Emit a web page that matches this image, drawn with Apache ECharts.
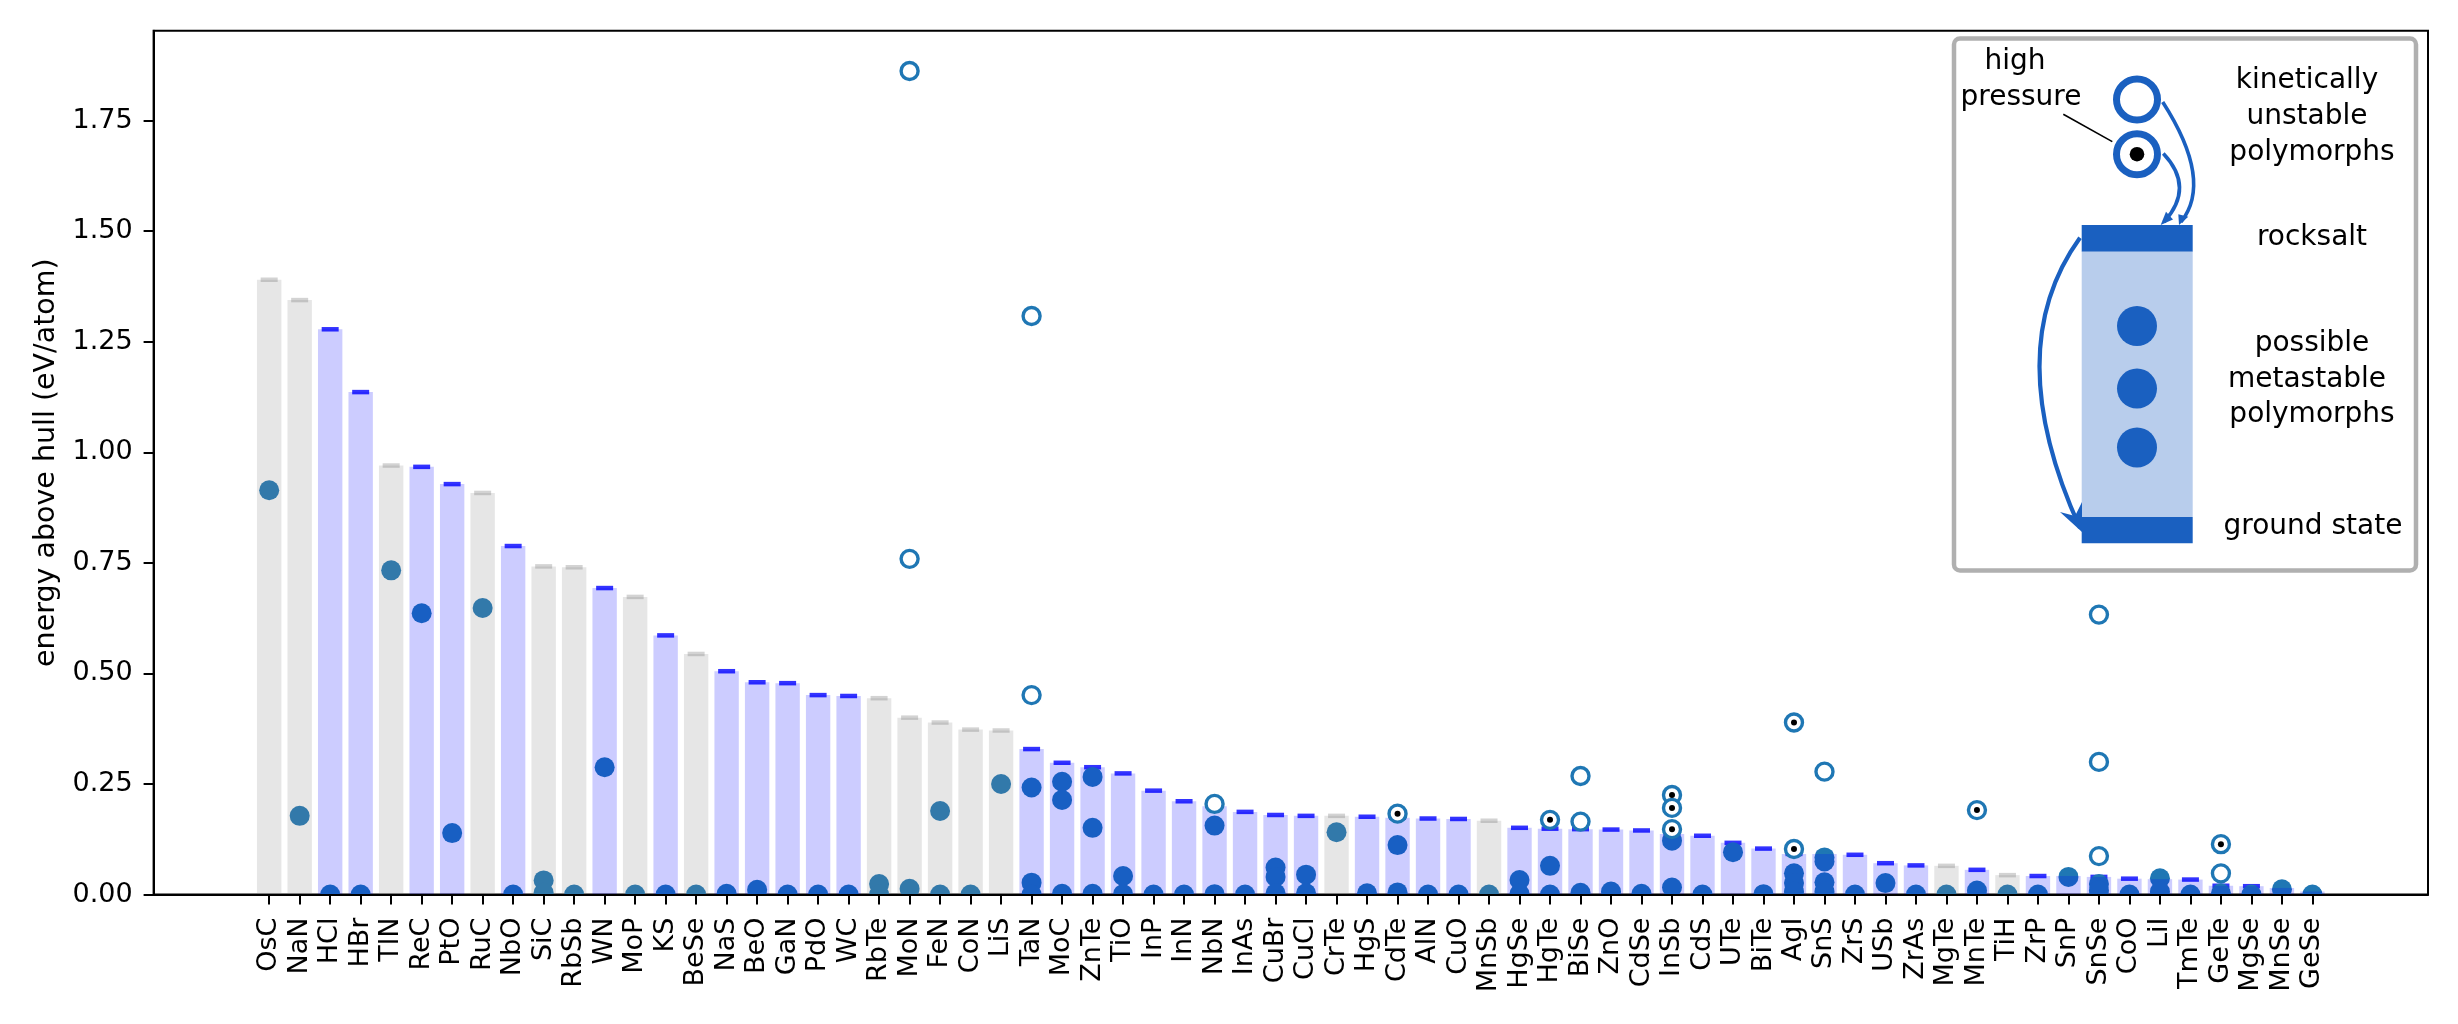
<!DOCTYPE html>
<html>
<head>
<meta charset="utf-8">
<title>energy above hull</title>
<script src="https://cdn.jsdelivr.net/npm/echarts@6/dist/echarts.min.js"></script>
<style>
html,body{margin:0;padding:0;background:#fff;}
#main{width:2458px;height:1024px;}
</style>
</head>
<body>
<div id="main"></div>
<script>
var categories = ['OsC','NaN','HCl','HBr','TlN','ReC','PtO','RuC','NbO','SiC','RbSb','WN','MoP','KS','BeSe','NaS','BeO','GaN','PdO','WC','RbTe','MoN','FeN','CoN','LiS','TaN','MoC','ZnTe','TiO','InP','InN','NbN','InAs','CuBr','CuCl','CrTe','HgS','CdTe','AlN','CuO','MnSb','HgSe','HgTe','BiSe','ZnO','CdSe','InSb','CdS','UTe','BiTe','AgI','SnS','ZrS','USb','ZrAs','MgTe','MnTe','TiH','ZrP','SnP','SnSe','CoO','LiI','TmTe','GeTe','MgSe','MnSe','GeSe'];

// rocksalt energy, sets the height of each bar
var rocksalt = [1.390,1.344,1.278,1.136,0.970,0.967,0.928,0.908,0.788,0.742,0.740,0.693,0.673,0.586,0.544,0.505,0.480,0.478,0.451,0.449,0.444,0.400,0.389,0.373,0.371,0.329,0.298,0.288,0.274,0.235,0.211,0.200,0.187,0.180,0.178,0.178,0.176,0.174,0.172,0.171,0.167,0.151,0.149,0.148,0.147,0.145,0.137,0.133,0.117,0.104,0.092,0.092,0.090,0.071,0.066,0.065,0.056,0.044,0.042,0.042,0.040,0.036,0.035,0.034,0.020,0.019,0.015,0.007];

// bars drawn in grey, all others are blue
var greyBars = ['OsC','NaN','TlN','RuC','SiC','RbSb','MoP','BeSe','RbTe','MoN','FeN','CoN','LiS','CrTe','MnSb','MgTe','TiH'];

// filled dots per compound, same order as categories
var polymorphs = [[0.914],[0.178],[0],[0],[0.733],[0.636],[0.139],[0.648],[0],[0.032,0.004],[0],[0.288],[0],[0],[0],[0.002],[0.011],[0],[0],[0],[0.024,0],[0.013],[0.189,0],[0],[0.25],[0.242,0.027,0],[0.255,0.214,0.002],[0.266,0.151,0.002],[0.042,0.001],[0],[0],[0.156,0.001],[0],[0.061,0.04,0.003],[0.045,0.003],[0.141],[0.003],[0.112,0.005],[0],[0],[0],[0.033,0.002],[0.065,0],[0.004],[0.007],[0.002],[0.122,0.016],[0],[0.096],[0.001],[0.048,0.026,0.007],[0.084,0.075,0.028,0.007],[0],[0.026],[0],[0],[0.009],[0],[0],[0.04],[0.024,0.009],[0],[0.037,0.007],[0],[0.003],[0],[0.012],[0]];

// open circles
var unstableNames = ['MoN','MoN','TaN','TaN','NbN','BiSe','BiSe','SnS','SnSe','SnSe','SnSe','GeTe'];
var unstableValues = [1.862,0.759,1.308,0.451,0.205,0.268,0.165,0.278,0.633,0.300,0.087,0.048];

// open circles with a black centre
var pressureNames = ['CdTe','HgTe','InSb','InSb','InSb','AgI','AgI','MnTe','GeTe'];
var pressureValues = [0.183,0.169,0.225,0.196,0.148,0.389,0.103,0.191,0.114];

var yTicks = [0,0.25,0.5,0.75,1,1.25,1.5,1.75];

// text of the inset: [text, centre x, centre y]
var insetLabels = [
    ['high',2015,62],['pressure',2021,98],
    ['kinetically',2307,81],['unstable',2307,117],['polymorphs',2312,153],
    ['rocksalt',2312,238],
    ['possible',2312,344],['metastable',2307,380],['polymorphs',2312,415],
    ['ground state',2313,527]
];

var insetBlue = '#1a60c0';
var FONT = '"DejaVu Sans"';

var xIndex = categories.map(function(c,i){ return i; });

var barData = [], capData = [], dotData = [];
categories.forEach(function(name,i){
    var grey = greyBars.indexOf(name) >= 0;
    barData.push({value:[i,rocksalt[i]],itemStyle:{color:grey ? 'rgba(128,128,128,0.2)' : 'rgba(0,0,255,0.2)'}});
    capData.push({value:[i,rocksalt[i]],itemStyle:{color:grey ? '#c8c8c8' : '#0000ff'}});
    polymorphs[i].forEach(function(v){
        dotData.push([i,v]);
    });
});

function byName(names,values){
    return names.map(function(n,i){
        return [categories.indexOf(n),values[i]];
    });
}

var ringData = byName(unstableNames,unstableValues).concat(byName(pressureNames,pressureValues));
var centreData = byName(pressureNames,pressureValues);

// custom series because scatter does not cut a symbol at the axis
function renderDot(params,api){
    var p = api.coord([api.value(0),api.value(1)]);
    return {type:'circle',shape:{cx:p[0],cy:p[1],r:10},style:{fill:'#1f77b4'}};
}

// inset drawing
var inset = [];
inset.push({type:'rect',z:10,shape:{x:1954,y:38.5,width:462,height:532,r:6},style:{fill:'#fff',stroke:'#b0b0b0',lineWidth:4.5}});
inset.push({type:'rect',z:11,shape:{x:2081.7,y:251,width:111,height:266},style:{fill:'#b8cdec'}});
inset.push({type:'rect',z:11,shape:{x:2081.7,y:225,width:111,height:26.4},style:{fill:insetBlue}});
inset.push({type:'rect',z:11,shape:{x:2081.7,y:517,width:111,height:26.3},style:{fill:insetBlue}});
[326,388.6,447.5].forEach(function(cy){
    inset.push({type:'circle',z:12,shape:{cx:2137,cy:cy,r:20},style:{fill:insetBlue}});
});
[99.5,154.2].forEach(function(cy){
    inset.push({type:'circle',z:12,shape:{cx:2137,cy:cy,r:20.5},style:{fill:'#fff',stroke:insetBlue,lineWidth:7}});
});
inset.push({type:'circle',z:13,shape:{cx:2137,cy:154.2,r:7.3},style:{fill:'#000'}});
inset.push({type:'line',z:12,shape:{x1:2063.3,y1:114.2,x2:2112.3,y2:141.6},style:{stroke:'#000',lineWidth:1.6}});
inset.push({type:'bezierCurve',z:12,shape:{x1:2162.7,y1:102,cpx1:2213.5,cpy1:181,x2:2181,y2:222},style:{stroke:insetBlue,lineWidth:3.6,fill:null}});
inset.push({type:'bezierCurve',z:12,shape:{x1:2163.3,y1:153.5,cpx1:2195.3,cpy1:187.3,x2:2164,y2:222},style:{stroke:insetBlue,lineWidth:3.6,fill:null}});
inset.push({type:'bezierCurve',z:12,shape:{x1:2080,y1:237.7,cpx1:1999,cpy1:349.8,x2:2080,y2:528},style:{stroke:insetBlue,lineWidth:4.2,fill:null}});
[
    [[2179,225],[2188.3,216.7],[2178.3,214.2]],
    [[2160.7,225],[2173,219.5],[2166,211.8]],
    [[2082,532],[2060,512],[2075,516],[2082,502]]
].forEach(function(pts){
    inset.push({type:'polygon',z:13,shape:{points:pts},style:{fill:insetBlue}});
});
insetLabels.forEach(function(l){
    inset.push({type:'text',z:13,x:l[1],y:l[2],style:{text:l[0],fill:'#000',font:'28px '+FONT,textAlign:'center',textVerticalAlign:'middle'}});
});

var option = {
    animation:false,
    backgroundColor:'#fff',
    textStyle:{fontFamily:FONT},
    grid:{left:153.6,right:30,top:30.7,bottom:129.4,show:true,borderColor:'#000',borderWidth:2,backgroundColor:'transparent'},
    xAxis:{
        type:'value',
        min:-3.79,
        max:70.79,
        z:6,
        splitLine:{show:false},
        axisLine:{show:true,onZero:false,lineStyle:{color:'#000',width:2}},
        axisTick:{show:true,customValues:xIndex,length:10,lineStyle:{color:'#000',width:2}},
        axisLabel:{
            customValues:xIndex,
            rotate:90,
            margin:23,
            fontSize:27,
            color:'#000',
            fontFamily:FONT,
            formatter:function(v){ return categories[v]; }
        }
    },
    yAxis:{
        type:'value',
        min:0,
        max:1.953,
        splitLine:{show:false},
        name:'energy above hull (eV/atom)',
        nameLocation:'middle',
        nameRotate:90,
        nameGap:93,
        nameTextStyle:{fontSize:28.5,color:'#000',fontFamily:FONT},
        axisLine:{show:true,onZero:false,lineStyle:{color:'#000',width:2}},
        axisTick:{show:true,customValues:yTicks,length:10,lineStyle:{color:'#000',width:2}},
        axisLabel:{
            customValues:yTicks,
            margin:21,
            fontSize:27,
            color:'#000',
            fontFamily:FONT,
            formatter:function(v){ return v.toFixed(2); }
        }
    },
    series:[
        {type:'scatter',z:1,data:capData,symbol:'rect',symbolSize:[17,4.5],silent:true},
        {type:'custom',z:2,data:dotData,clip:true,renderItem:renderDot,encode:{x:0,y:1},silent:true},
        {type:'bar',z:3,data:barData,barWidth:24.4,silent:true},
        {type:'scatter',z:4,data:ringData,symbol:'circle',symbolSize:17,itemStyle:{color:'#fff',borderColor:'#1f77b4',borderWidth:3.4,opacity:1},silent:true},
        {type:'scatter',z:5,data:centreData,symbol:'circle',symbolSize:6,itemStyle:{color:'#000',opacity:1},silent:true}
    ],
    graphic:{elements:inset}
};

var chart = echarts.init(document.getElementById('main'));
chart.setOption(option);
</script>
</body>
</html>
